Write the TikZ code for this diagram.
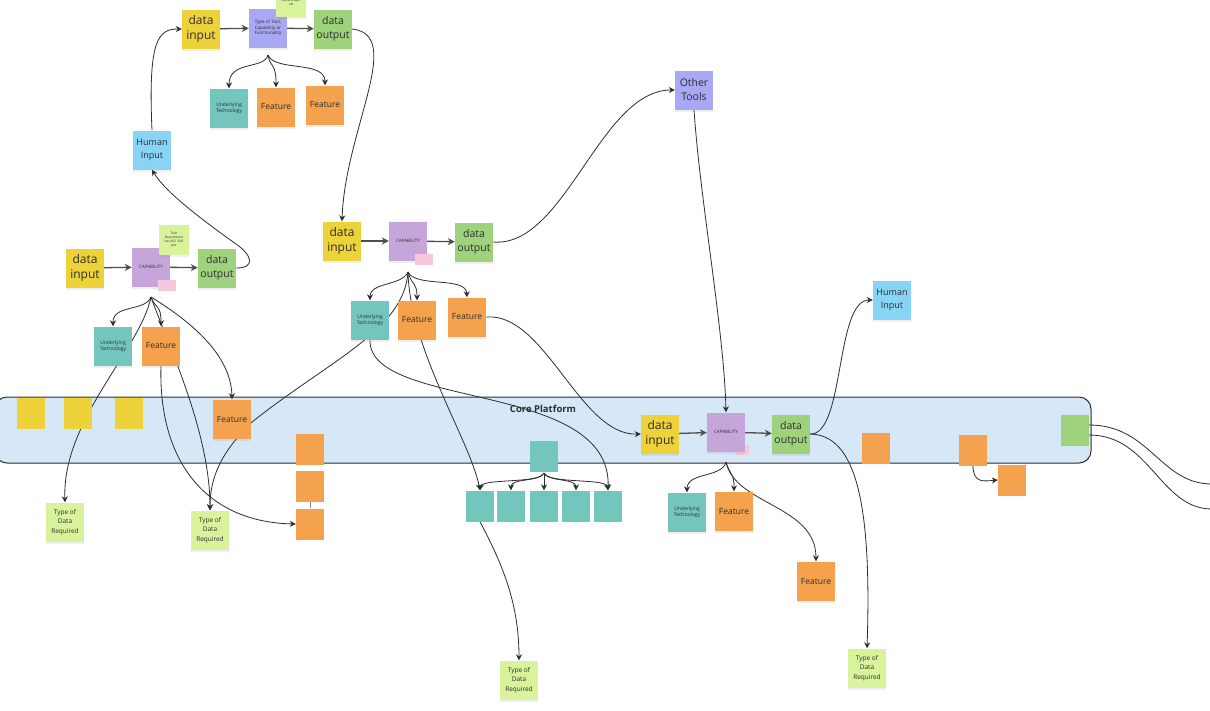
\documentclass[tikz,border=0pt]{standalone}
\usepackage{fontspec}
\setmainfont{Open Sans}
\usetikzlibrary{arrows.meta,shadows}
\pgfdeclarelayer{bg}\pgfdeclarelayer{mid}\pgfsetlayers{bg,mid,main}
\definecolor{ink}{HTML}{2E2E2E}
\definecolor{cyel}{HTML}{EDD23A}
\definecolor{cgrn}{HTML}{9FD27C}
\definecolor{cpur}{HTML}{C6A6DA}
\definecolor{cperi}{HTML}{A8A8F5}
\definecolor{cteal}{HTML}{74C5BE}
\definecolor{corg}{HTML}{F4A24E}
\definecolor{clgr}{HTML}{D9F29C}
\definecolor{clbl}{HTML}{88D4F5}
\definecolor{cpink}{HTML}{F6C8DE}
\definecolor{ccore}{HTML}{D6E7F8}
\begin{document}
\begin{tikzpicture}[x=1pt,y=-1pt,
  note/.style={inner sep=0pt, minimum width=38pt, minimum height=39pt, align=center, text=ink,
    drop shadow={shadow xshift=0pt, shadow yshift=-2pt, opacity=0.12}},
  yel/.style={note, fill=cyel, font=\fontsize{12}{14.5}\selectfont},
  grn/.style={note, fill=cgrn, font=\fontsize{10.5}{13.5}\selectfont},
  capnote/.style={note, fill=cpur, font=\fontsize{4.5}{5}\selectfont},
  peri/.style={note, fill=cperi, font=\fontsize{4.5}{5.5}\selectfont},
  tech/.style={note, fill=cteal, font=\fontsize{5}{6.5}\selectfont},
  feat/.style={note, fill=corg, font=\fontsize{8.5}{9}\selectfont},
  tdr/.style={note, fill=clgr, font=\fontsize{6.5}{9.5}\selectfont},
  hum/.style={note, fill=clbl, font=\fontsize{9}{13}\selectfont},
  tiny/.style={note, fill=clgr, minimum width=30pt, minimum height=30pt, font=\fontsize{3.2}{4}\selectfont},
  pinkn/.style={fill=cpink, inner sep=0pt, minimum width=18pt, minimum height=11pt},
  sq/.style={inner sep=0pt, minimum width=28pt, minimum height=31pt},
  con/.style={draw=ink, line width=0.8pt, -{Stealth[length=6pt,width=6pt]}},
  flow/.style={draw=ink!85, line width=1.3pt, -{Stealth[length=7pt,width=7pt]}},
  plain/.style={draw=ink, line width=0.8pt}
]
\useasboundingbox (0,0) rectangle (1210,710);

% core platform
\begin{pgfonlayer}{bg}
\fill[white] (0,0) rectangle (1210,710);
\node[draw=ink, line width=1pt, fill=ccore, rounded corners=12pt, minimum width=1096pt, minimum height=66pt, inner sep=0pt] (core) at (543,430) {};
\end{pgfonlayer}
\node[font=\bfseries\fontsize{9.5}{10}\selectfont, text=ink] (corelbl) at (543,409) {Core Platform};

% top cluster
\node[yel] (tin) at (201,29) {data\\input};
\node[peri] (ttool) at (268,28) {Type of Tool,\\Capability or\\Functionality};
\node[tiny] (tnote) at (291,2) {\\Success Opt-\\ed};
\node[grn] (tout) at (333,29) {data\\output};
\node[tech] (tut) at (229,108) {Underlying\\Technology};
\node[feat] (tf1) at (276,107) {Feature};
\node[feat] (tf2) at (325,105) {Feature};
\node[hum] (hum) at (152,150) {Human\\Input};

% left cluster
\node[yel] (lin) at (85,268) {data\\input};
\node[capnote] (lcap) at (151,267) {CAPABILITY};
\node[tiny] (lnote) at (174,240) {Tech\\Department\\has ACS SUR\\per};
\node[pinkn] (lpink) at (167,285) {};
\node[grn] (lout) at (217,268) {data\\output};
\node[tech] (lut) at (113,346) {Underlying\\Technology};
\node[feat] (lf) at (161,346) {Feature};

% middle cluster
\node[yel] (min) at (342,241) {data\\input};
\node[capnote] (mcap) at (408,241) {CAPABILITY};
\node[pinkn] (mpink) at (424,259) {};
\node[grn] (mout) at (474,242) {data\\output};
\node[tech] (mut) at (370,320) {Underlying\\Technology};
\node[feat] (mf1) at (417,320) {Feature};
\node[feat] (mf2) at (467,317) {Feature};
\node[peri, font=\fontsize{10.5}{14}\selectfont] (other) at (694,90) {Other\\Tools};

% core contents
\node[sq, fill=cyel] (y1) at (31,413) {};
\node[sq, fill=cyel] (y2) at (78,413) {};
\node[sq, fill=cyel] (y3) at (129,413) {};
\node[feat] (cfeat) at (232,419) {Feature};
\node[sq, fill=corg] (o1) at (310,449) {};
\node[sq, fill=corg] (o2) at (310,486) {};
\node[sq, fill=corg] (o3) at (310,524) {};
\node[sq, fill=cteal] (tt) at (544,456) {};
\node[sq, fill=cteal] (t1) at (480,506) {};
\node[sq, fill=cteal] (t2) at (511,506) {};
\node[sq, fill=cteal] (t3) at (544,506) {};
\node[sq, fill=cteal] (t4) at (576,506) {};
\node[sq, fill=cteal] (t5) at (608,506) {};
\node[yel] (cin) at (660,434) {data\\input};
\node[pinkn, minimum width=14pt, minimum height=10pt] (cpink) at (742,450) {};
\node[capnote] (ccap) at (726,432) {CAPABILITY};
\node[grn] (cout) at (791,434) {data\\output};
\node[tech] (cut) at (687,512) {Underlying\\Technology};
\node[feat] (cfa) at (734,511) {Feature};
\node[feat] (cfb) at (816,581) {Feature};
\node[hum] (hum2) at (892,300) {Human\\Input};
\node[sq, fill=corg] (o4) at (876,448) {};
\node[sq, fill=corg] (o5) at (973,450) {};
\node[sq, fill=corg] (o6) at (1012,480) {};
\node[sq, fill=cgrn] (gsq) at (1075,430) {};

% data required notes
\node[tdr] (tdr1) at (65,522) {Type of\\Data\\Required};
\node[tdr] (tdr2) at (210,530) {Type of\\Data\\Required};
\node[tdr] (tdr3) at (519,680) {Type of\\Data\\Required};
\node[tdr] (tdr4) at (867,668) {Type of\\Data\\Required};

% branch points and free ends
\coordinate (tb) at (268,55);
\coordinate (lb) at (151,297);
\coordinate (mb) at (408,272);
\coordinate (cb) at (726,462);
\coordinate (tb2) at (544,473);
\coordinate (e1) at (1212,484);
\coordinate (e2) at (1212,509);

\begin{pgfonlayer}{mid}
% top
\draw[flow] (tin) -- (ttool);
\draw[flow] (ttool) -- (tout);
\draw[con] (tb) .. controls (264,70) and (229,60) .. (tut.north);
\draw[con] (tb) .. controls (270,68) and (276,62) .. (tf1.north);
\draw[con] (tb) .. controls (275,72) and (325,60) .. (tf2.north);
\draw[con] (hum.north) .. controls (148,40) and (158,29) .. (tin.west);
\draw[con] (tout.east) .. controls (405,35) and (345,130) .. (min.north);
% left
\draw[flow] (lin) -- (lcap);
\draw[flow] (lcap) -- (lout);
\draw[con] (lout.east) .. controls (256,268) and (252,255) .. (236,244) .. controls (205,222) and (165,192) .. (hum.south);
\draw[con] (lb) .. controls (145,312) and (113,304) .. (lut.north);
\draw[con] (lb) .. controls (156,310) and (161,304) .. (lf.north);
\draw[con] (lb) .. controls (140,350) and (62,420) .. (tdr1.north);
\draw[con] (lb) .. controls (166,340) and (210,430) .. (tdr2.north);
\draw[con] (lb) .. controls (185,318) and (231,352) .. (cfeat.north);
\draw[con] (lf.south) .. controls (158,460) and (205,522) .. (o3.west);
\draw[draw=ink!60, line width=0.8pt] (o2.south) -- (o3.north);
% middle
\draw[flow] (min) -- (mcap);
\draw[flow] (mcap) -- (mout);
\draw[con] (mb) .. controls (402,286) and (370,282) .. (mut.north);
\draw[con] (mb) .. controls (412,286) and (417,282) .. (mf1.north);
\draw[con] (mb) .. controls (416,288) and (466,276) .. (mf2.north);
\draw[con] (mb) .. controls (404,330) and (330,360) .. (252,422) .. controls (228,446) and (210,470) .. (tdr2.north);
\draw[con] (mb) .. controls (410,350) and (470,440) .. (t1.north);
\draw[con] (mut.south) .. controls (368,410) and (612,380) .. (t5.north);
\draw[con] (mf2.east) .. controls (545,312) and (580,436) .. (cin.west);
\draw[con] (mout.east) .. controls (565,248) and (600,90) .. (other.west);
\draw[con] (t1.south) .. controls (500,560) and (519,600) .. (tdr3.north);
% teal branching
\draw[con] (tb2) .. controls (540,484) and (482,478) .. (t1.north);
\draw[con] (tb2) .. controls (540,482) and (511,478) .. (t2.north);
\draw[con] (tb2) -- (t3.north);
\draw[con] (tb2) .. controls (548,482) and (576,478) .. (t4.north);
\draw[con] (tb2) .. controls (548,484) and (606,478) .. (t5.north);
% core
\draw[con] (other.south) .. controls (700,200) and (724,330) .. (ccap.north);
\draw[flow] (cin) -- (ccap);
\draw[flow] (ccap) -- (cout);
\draw[con] (cb) .. controls (722,478) and (687,472) .. (cut.north);
\draw[con] (cb) .. controls (730,476) and (734,472) .. (cfa.north);
\draw[con] (cb) .. controls (735,505) and (816,505) .. (cfb.north);
\draw[con] (cout.east) .. controls (845,435) and (835,300) .. (hum2.west);
\draw[con] (cout.east) .. controls (855,435) and (872,500) .. (tdr4.north);
\draw[con] (o5.south) .. controls (973,484) and (985,481) .. (o6.west);
\draw[plain] ([yshift=5pt]gsq.east) .. controls (1150,425) and (1160,484) .. (e1);
\draw[plain] ([yshift=-5pt]gsq.east) .. controls (1150,435) and (1160,509) .. (e2);
\end{pgfonlayer}
\end{tikzpicture}
\end{document}
